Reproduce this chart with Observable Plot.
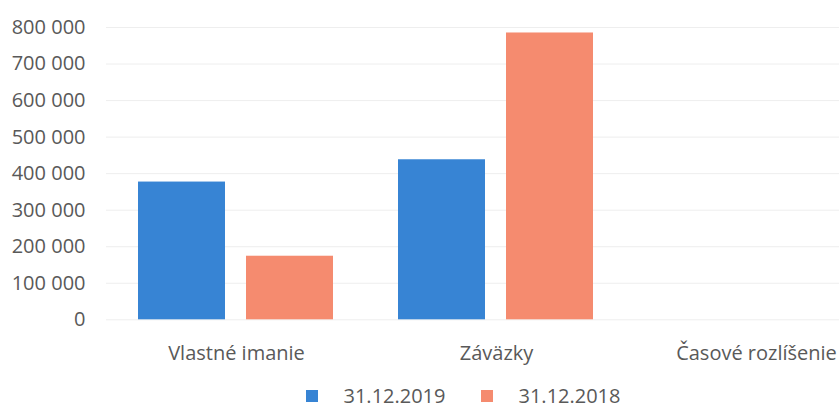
<!DOCTYPE html>
<html>
<head>
<meta charset="utf-8">
<script src="https://cdn.jsdelivr.net/npm/d3@7"></script>
<script src="https://cdn.jsdelivr.net/npm/@observablehq/plot@0.6"></script>
<style>
  html, body { margin: 0; padding: 0; background: #fff; overflow: hidden; }
  #chart { width: 839px; height: 370px; }
  .legend { width: 926px; height: 40px; display: flex; justify-content: center; align-items: flex-start;
            font-family: "Open Sans", sans-serif; font-size: 20px; line-height: 20px; color: #595959; }
  .legend .sw { width: 12px; height: 12px; margin-right: 26px; }
  .legend .item { display: flex; align-items: center; padding-top: 16px; height: 20px; }
  .legend .item + .item { margin-left: 35px; }
</style>
</head>
<body>
<div id="chart"></div>
<script>
const categories = ["Vlastné imanie", "Záväzky", "Časové rozlíšenie"];
const series = ["31.12.2019", "31.12.2018"];
const values2019 = [377000, 438000, 0];
const values2018 = [174000, 785000, 0];
const colors = ["#3784d4", "#f58b6f"];
const yTicks = [0, 100000, 200000, 300000, 400000, 500000, 600000, 700000, 800000];

const data = [];
categories.forEach((c, i) => {
  data.push({category: c, series: series[0], value: values2019[i]});
  data.push({category: c, series: series[1], value: values2018[i]});
});

const fmt = d3.formatLocale({thousands: " ", grouping: [3], decimal: ","}).format(",d");

const chart = Plot.plot({
  width: 839,
  height: 370,
  marginTop: 27,
  marginBottom: 50.7,
  marginLeft: 106,
  marginRight: 0,
  style: {fontFamily: "Open Sans, sans-serif", fontSize: "20px", color: "#595959", background: "#fff", overflow: "visible"},
  fx: {domain: categories, range: [106, 886], paddingInner: 0, paddingOuter: 0, label: null},
  x: {domain: series, paddingInner: 0.194, paddingOuter: 0.30, axis: null},
  y: {domain: [0, 800000], label: null},
  color: {domain: series, range: colors},
  marks: [
    Plot.gridY(yTicks, {stroke: "#eeeeee", strokeOpacity: 1, strokeWidth: 1}),
    Plot.barY(data, {fx: "category", x: "series", y: "value", fill: "series"}),
    Plot.axisY(yTicks, {tickSize: 0, tickPadding: 21, tickFormat: fmt, label: null, fontSize: 20}),
    Plot.axisFx({anchor: "bottom", tickSize: 0, tickPadding: 26, label: null, fontSize: 20})
  ]
});
document.getElementById("chart").appendChild(chart);

const legend = document.createElement("div");
legend.className = "legend";
series.forEach((s, i) => {
  const item = document.createElement("div");
  item.className = "item";
  const sw = document.createElement("div");
  sw.className = "sw";
  sw.style.background = colors[i];
  const t = document.createElement("span");
  t.textContent = s;
  item.appendChild(sw);
  item.appendChild(t);
  legend.appendChild(item);
});
document.body.appendChild(legend);
</script>
</body>
</html>
